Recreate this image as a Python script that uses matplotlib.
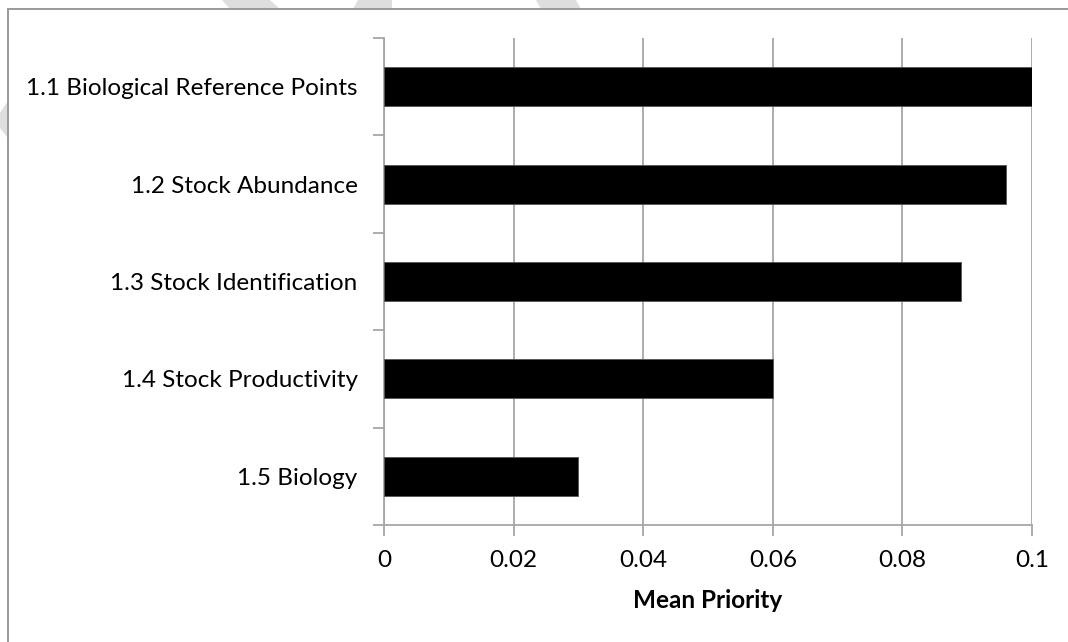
import matplotlib
matplotlib.use("Agg")
import matplotlib.pyplot as plt
from matplotlib.patches import Rectangle, Polygon

plt.rcParams['font.family'] = ['Lato', 'DejaVu Sans']

categories = [
    "1.1 Biological Reference Points",
    "1.2 Stock Abundance",
    "1.3 Stock Identification",
    "1.4 Stock Productivity",
    "1.5 Biology",
]
mean_priority = [0.100, 0.096, 0.089, 0.060, 0.030]
x_ticks = [0, 0.02, 0.04, 0.06, 0.08, 0.1]
x_tick_labels = ["0", "0.02", "0.04", "0.06", "0.08", "0.1"]

W, H = 1068, 642
fig = plt.figure(figsize=(W / 100, H / 100), dpi=100)
fig.patch.set_facecolor("white")


def px(x, y):
    """Pixel position (from top-left) to figure fraction."""
    return (x / W, 1 - y / H)


# faint watermark pieces peeking out around the chart frame
wm_color = "#dedede"
for pts in [
    [(222, 0), (270, 0), (280, 9), (230, 9)],
    [(358, 0), (392, 0), (392, 9), (353, 9)],
    [(536, 0), (576, 0), (581, 9), (541, 9)],
    [(0, 113), (8, 101), (8, 138), (0, 128)],
]:
    fig.patches.append(Polygon([px(*p) for p in pts], closed=True,
                               transform=fig.transFigure, facecolor=wm_color,
                               edgecolor="none", zorder=-3))

# chart frame
x0, y0 = px(8, 9)
fig.patches.append(Rectangle((x0, y0), 2, -2, transform=fig.transFigure,
                             facecolor="white", edgecolor="#9a9a9a",
                             linewidth=1.4, zorder=-2))

left, top = px(384, 38)
right, bottom = px(1032, 525)
ax = fig.add_axes([left, bottom, right - left, top - bottom])
ax.set_facecolor("none")

ypos = list(range(len(categories)))
ax.barh(ypos, mean_priority, height=0.4, color="black",
        edgecolor="#555555", linewidth=0.6, zorder=3)

ax.set_xlim(0, 0.1)
ax.set_ylim(len(categories) - 0.5, -0.5)

grid_color = "#a6a6a6"
fs = 17.5
ax.set_xticks(x_ticks)
ax.set_xticklabels(x_tick_labels)
ax.xaxis.grid(True, color=grid_color, linewidth=1.3, zorder=1)
ax.set_axisbelow(True)

# category labels sit between the boundary tick marks
ax.set_yticks([i - 0.5 for i in range(len(categories) + 1)])
ax.set_yticklabels([])
ax.set_yticks(ypos, minor=True)
ax.set_yticklabels(categories, minor=True, fontsize=fs)
ax.tick_params(axis="y", which="minor", length=0, pad=19)
ax.tick_params(axis="y", which="major", length=8, width=1.3, color=grid_color)
ax.tick_params(axis="x", length=8, width=1.3, color=grid_color,
               labelsize=fs, pad=10)

for side in ["top", "right"]:
    ax.spines[side].set_visible(False)
for side in ["left", "bottom"]:
    ax.spines[side].set_color(grid_color)
    ax.spines[side].set_linewidth(1.3)

ax.set_xlabel("Mean Priority", fontsize=fs, fontweight="bold", labelpad=13)

fig.savefig("out.png", dpi=100, facecolor="white")
